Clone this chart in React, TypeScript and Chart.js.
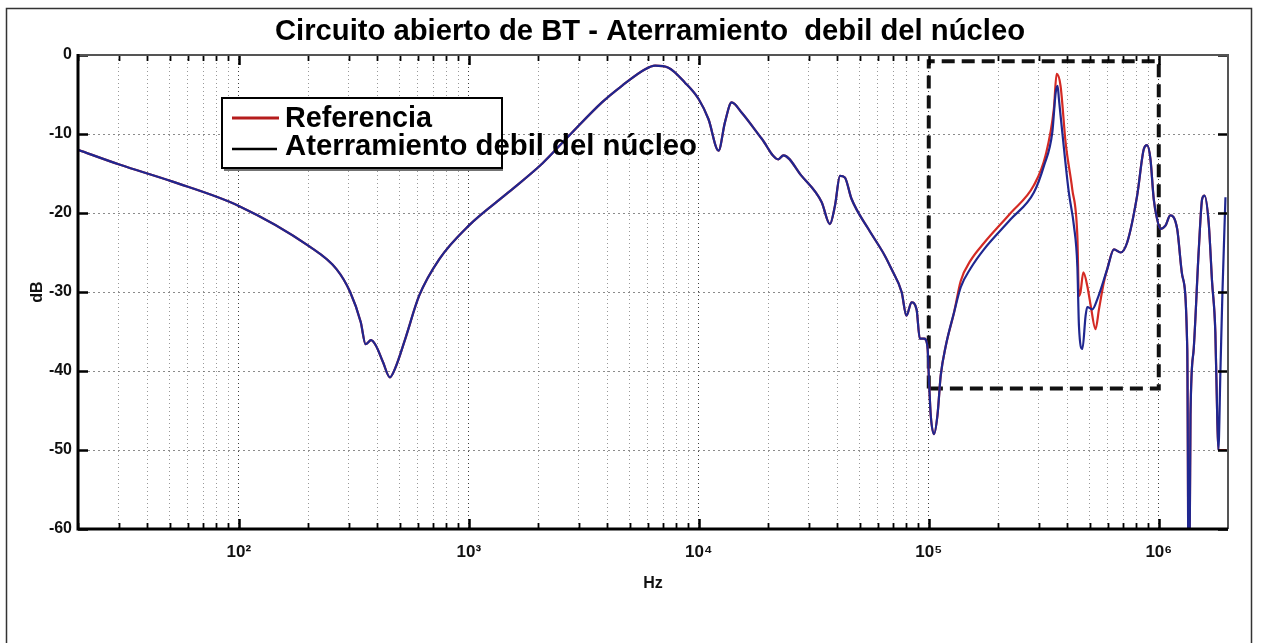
import React, { useEffect, useRef } from 'react';
import { Chart, registerables } from 'chart.js';

Chart.register(...registerables);

const CHART_TITLE = 'Circuito abierto de BT - Aterramiento  debil del núcleo';
const LEGEND_LABELS = ['Referencia', 'Aterramiento debil del núcleo'];
const X_AXIS_TITLE = 'Hz';
const Y_AXIS_TITLE = 'dB';

// Shared part of both curves (Hz, dB)
const commonHz = [20, 30.5, 51.2, 100, 202, 266, 305, 339, 356, 376, 395, 424, 454, 478, 530, 608, 746, 1000, 1486, 2094, 2754, 3793, 4634, 5848, 6457, 7379, 8710, 10000, 11015, 12190, 13002, 13900, 15382, 18793, 22182, 23335, 27990, 34198, 37154, 39084, 41115, 43152, 46132, 54576, 64417, 68865, 76208, 79983, 84140, 88512, 91411, 95499, 98632, 100300, 102000, 105400, 109100, 112700, 118600, 128800];
const commonDb = [-12, -13.9, -16, -19.1, -24.2, -27.1, -30, -33.8, -36.6, -36.1, -36.8, -38.9, -40.8, -39.7, -35.9, -30.5, -25.8, -21.6, -17.4, -13.7, -10.1, -6, -3.9, -1.8, -1.35, -1.6, -3.5, -5.6, -8.1, -12.1, -8.5, -6, -7.3, -10.6, -13.2, -12.7, -15.3, -18.6, -21.4, -19.1, -15.3, -15.5, -18.2, -22, -25.4, -27.1, -30, -33, -31.3, -32.2, -35.9, -35.9, -36.8, -41.4, -45.6, -48, -45.6, -40.6, -36.8, -32.6];

// "Referencia" high-frequency part
const refTailHz = [137700, 152100, 173800, 227000, 286400, 322100, 349900, 359700, 374100, 393600, 420700, 442600, 449800, 457100, 469900, 488700, 505800, 530900, 549500, 576800, 597000, 638300, 682300, 729400, 805400, 861000, 889200, 920400, 950600, 984000, 1016000, 1069000, 1122000, 1202000, 1265000, 1330000, 1352000, 1374000, 1419000, 1493000, 1545000, 1581000, 1648000, 1706000, 1762000, 1795000, 1816000, 1970000];
const refTailDb = [-28.6, -26, -23.8, -20, -16.5, -12.7, -6.8, -2.4, -3.9, -11.1, -17, -22.9, -30.5, -30, -27.5, -29.2, -31.7, -34.7, -32.2, -28.8, -27.1, -24.6, -25, -23.7, -17.8, -11.9, -11.4, -13.2, -18.2, -20.8, -22, -21.6, -20.3, -22, -27.9, -37.2, -75, -45.6, -37.2, -24.6, -18.2, -17.8, -21.2, -28.8, -35.1, -45.6, -50, -50];

// "Aterramiento debil del núcleo" high-frequency part
const faultTailHz = [137700, 152100, 173800, 227000, 286400, 317000, 344400, 356500, 363100, 368100, 387300, 406400, 427600, 442600, 449800, 465600, 480800, 488700, 514000, 540800, 597000, 638300, 682300, 729400, 805400, 861000, 889200, 920400, 950600, 984000, 1016000, 1069000, 1122000, 1202000, 1265000, 1330000, 1352000, 1374000, 1419000, 1493000, 1545000, 1581000, 1648000, 1706000, 1762000, 1795000, 1816000, 1854000, 1892000, 1950000];
const faultTailDb = [-29.4, -27, -24.6, -20.8, -17.4, -14, -9.8, -4.7, -3.9, -5.6, -11.9, -17.4, -21.6, -26.7, -34.3, -37.2, -33, -31.9, -32.2, -30.9, -27.1, -24.6, -25, -23.7, -17.8, -11.9, -11.4, -13.2, -18.2, -20.8, -22, -21.6, -20.3, -22, -27.9, -37.2, -75, -45.6, -37.2, -24.6, -18.2, -17.8, -21.2, -28.8, -35.1, -45.6, -50, -40, -30, -18];

// Dashed highlight rectangle
const zoomBoxHz = [100000, 100000, 1000000, 1000000, 100000];
const zoomBoxDb = [-42.2, -0.8, -0.8, -42.2, -42.2];

const yTickValues = [0, -10, -20, -30, -40, -50, -60];
const decadeValues = [100, 1000, 10000, 100000, 1000000];
const decadeLabels = ['10²', '10³', '10⁴', '10⁵', '10⁶'];
const gridDecades = [10, 100, 1000, 10000, 100000, 1000000];
const gridMultipliers = [1, 2, 3, 4, 5, 6, 7, 8, 9];

const X_MIN = 20;
const X_MAX = 2000000;
const Y_MIN = -60;
const Y_MAX = 0;

const xTickValues = gridDecades
  .flatMap((d) => gridMultipliers.map((m) => m * d))
  .filter((v) => v >= X_MIN && v < X_MAX);

const toPoints = (xs: number[], ys: number[]) => xs.map((x, i) => ({ x, y: ys[i] }));

const BOLD_FONT = '"Liberation Sans", Arial, sans-serif';
const TICK_FONT = '"Liberation Sans Narrow", "Liberation Sans", Arial, sans-serif';

function drawFitted(ctx: CanvasRenderingContext2D, text: string, x: number, y: number, width: number, font: string) {
  ctx.font = font;
  const w = ctx.measureText(text).width;
  ctx.save();
  ctx.translate(x, y);
  ctx.scale(width / w, 1);
  ctx.textAlign = 'left';
  ctx.textBaseline = 'alphabetic';
  ctx.fillText(text, 0, 0);
  ctx.restore();
}

const decorPlugin = {
  id: 'decor',
  beforeDraw(chart: any) {
    const { ctx, width, height } = chart;
    ctx.save();
    ctx.fillStyle = '#ffffff';
    ctx.fillRect(0, 0, width, height);
    ctx.restore();
  },
  afterDraw(chart: any) {
    const { ctx, chartArea: a, scales } = chart;
    const xs = scales.x;
    const ys = scales.y;
    ctx.save();

    // inside tick marks
    ctx.strokeStyle = '#000';
    xs.ticks.forEach((t: any) => {
      const major = decadeValues.includes(t.value);
      const px = Math.round(xs.getPixelForValue(t.value)) + 0.5;
      const len = major ? 10 : 6;
      ctx.lineWidth = major ? 2.5 : 1.8;
      ctx.beginPath();
      ctx.moveTo(px, a.bottom);
      ctx.lineTo(px, a.bottom - len);
      ctx.moveTo(px, a.top);
      ctx.lineTo(px, a.top + len);
      ctx.stroke();
    });
    ys.ticks.forEach((t: any) => {
      const py = Math.round(ys.getPixelForValue(t.value)) + 0.5;
      ctx.lineWidth = 2.5;
      ctx.beginPath();
      ctx.moveTo(a.left, py);
      ctx.lineTo(a.left + 10, py);
      ctx.moveTo(a.right, py);
      ctx.lineTo(a.right - 10, py);
      ctx.stroke();
    });

    // axes box
    ctx.strokeStyle = '#555';
    ctx.lineWidth = 2;
    ctx.beginPath();
    ctx.moveTo(a.left, a.top);
    ctx.lineTo(a.right, a.top);
    ctx.lineTo(a.right, a.bottom);
    ctx.stroke();
    ctx.strokeStyle = '#000';
    ctx.lineWidth = 3;
    ctx.beginPath();
    ctx.moveTo(a.left, a.top - 1);
    ctx.lineTo(a.left, a.bottom);
    ctx.lineTo(a.right, a.bottom);
    ctx.stroke();

    // outer figure frame
    ctx.strokeStyle = '#333';
    ctx.lineWidth = 1.5;
    ctx.beginPath();
    ctx.moveTo(6.5, chart.height + 2);
    ctx.lineTo(6.5, 8.5);
    ctx.lineTo(1251.5, 8.5);
    ctx.lineTo(1251.5, chart.height + 2);
    ctx.stroke();

    // title
    ctx.fillStyle = '#000';
    drawFitted(ctx, CHART_TITLE, 275, 40, 750, `bold 29px ${BOLD_FONT}`);

    // legend box
    ctx.fillStyle = '#fff';
    ctx.fillRect(222, 98, 280, 70);
    ctx.strokeStyle = '#000';
    ctx.lineWidth = 2;
    ctx.strokeRect(222, 98, 280, 70);
    ctx.strokeStyle = 'rgba(80,80,80,0.8)';
    ctx.lineWidth = 2;
    ctx.beginPath();
    ctx.moveTo(224, 170);
    ctx.lineTo(503, 170);
    ctx.stroke();

    ctx.strokeStyle = '#b51c1c';
    ctx.lineWidth = 3;
    ctx.beginPath();
    ctx.moveTo(232, 118);
    ctx.lineTo(279, 118);
    ctx.stroke();
    ctx.strokeStyle = '#000';
    ctx.lineWidth = 2.5;
    ctx.beginPath();
    ctx.moveTo(232, 149);
    ctx.lineTo(277, 149);
    ctx.stroke();

    ctx.fillStyle = '#000';
    drawFitted(ctx, LEGEND_LABELS[0], 285, 127, 147, `bold 29px ${BOLD_FONT}`);
    drawFitted(ctx, LEGEND_LABELS[1], 285, 155, 412, `bold 29px ${BOLD_FONT}`);

    ctx.restore();
  },
};

export default function App() {
  const canvasRef = useRef<HTMLCanvasElement | null>(null);

  useEffect(() => {
    const canvas = canvasRef.current;
    if (!canvas) return;
    const chart = new Chart(canvas, {
      type: 'line',
      data: {
        datasets: [
          {
            label: LEGEND_LABELS[0],
            data: toPoints([...commonHz, ...refTailHz], [...commonDb, ...refTailDb]),
            borderColor: '#d42a24',
            borderWidth: 2.2,
            pointRadius: 0,
            cubicInterpolationMode: 'monotone',
            order: 2,
          },
          {
            label: LEGEND_LABELS[1],
            data: toPoints([...commonHz, ...faultTailHz], [...commonDb, ...faultTailDb]),
            borderColor: '#1f2790',
            borderWidth: 2.2,
            pointRadius: 0,
            cubicInterpolationMode: 'monotone',
            order: 1,
          },
          {
            label: 'zona',
            data: toPoints(zoomBoxHz, zoomBoxDb),
            borderColor: '#111',
            borderWidth: 4,
            borderDash: [13, 7],
            pointRadius: 0,
            tension: 0,
            order: 3,
          },
        ],
      },
      options: {
        animation: false,
        responsive: false,
        devicePixelRatio: 1,
        layout: { padding: { top: 55, right: 35, bottom: 0, left: 0 } },
        plugins: {
          legend: { display: false },
          title: { display: false },
          tooltip: { enabled: false },
        },
        scales: {
          x: {
            type: 'logarithmic',
            min: X_MIN,
            max: X_MAX,
            afterFit: (s: any) => {
              s.height = 114;
            },
            afterBuildTicks: (s: any) => {
              s.ticks = xTickValues.map((v) => ({ value: v }));
            },
            ticks: {
              autoSkip: false,
              maxRotation: 0,
              minRotation: 0,
              padding: 13,
              color: '#111',
              font: { family: TICK_FONT, size: 17, weight: 'bold' },
              callback: (v: any) => {
                const i = decadeValues.indexOf(Number(v));
                return i >= 0 ? decadeLabels[i] : '';
              },
            },
            grid: {
              drawTicks: false,
              lineWidth: 1,
              color: (c: any) =>
                c.tick && decadeValues.includes(c.tick.value) ? 'rgba(30,30,30,0.85)' : 'rgba(110,110,110,0.7)',
            },
            border: { display: false, dash: [1, 3] },
            title: {
              display: true,
              text: X_AXIS_TITLE,
              color: '#111',
              font: { family: TICK_FONT, size: 16, weight: 'bold' },
              padding: { top: 0, bottom: 50 },
            },
          },
          y: {
            type: 'linear',
            min: Y_MIN,
            max: Y_MAX,
            afterFit: (s: any) => {
              s.width = 78;
            },
            afterBuildTicks: (s: any) => {
              s.ticks = yTickValues.map((v) => ({ value: v }));
            },
            ticks: {
              padding: 6,
              color: '#111',
              font: { family: TICK_FONT, size: 16, weight: 'bold' },
              callback: (v: any) => String(v),
            },
            grid: {
              drawTicks: false,
              lineWidth: 1,
              color: 'rgba(100,100,100,0.75)',
            },
            border: { display: false, dash: [2, 3] },
            title: {
              display: true,
              text: Y_AXIS_TITLE,
              color: '#111',
              font: { family: TICK_FONT, size: 16, weight: 'bold' },
              padding: { top: 28, bottom: 0 },
            },
          },
        },
      },
      plugins: [decorPlugin],
    } as any);
    return () => chart.destroy();
  }, []);

  return (
    <div style={{ position: 'fixed', left: 0, top: 0, width: 1263, height: 643, background: '#fff' }}>
      <canvas ref={canvasRef} width={1263} height={643} style={{ display: 'block', width: 1263, height: 643 }} />
    </div>
  );
}
